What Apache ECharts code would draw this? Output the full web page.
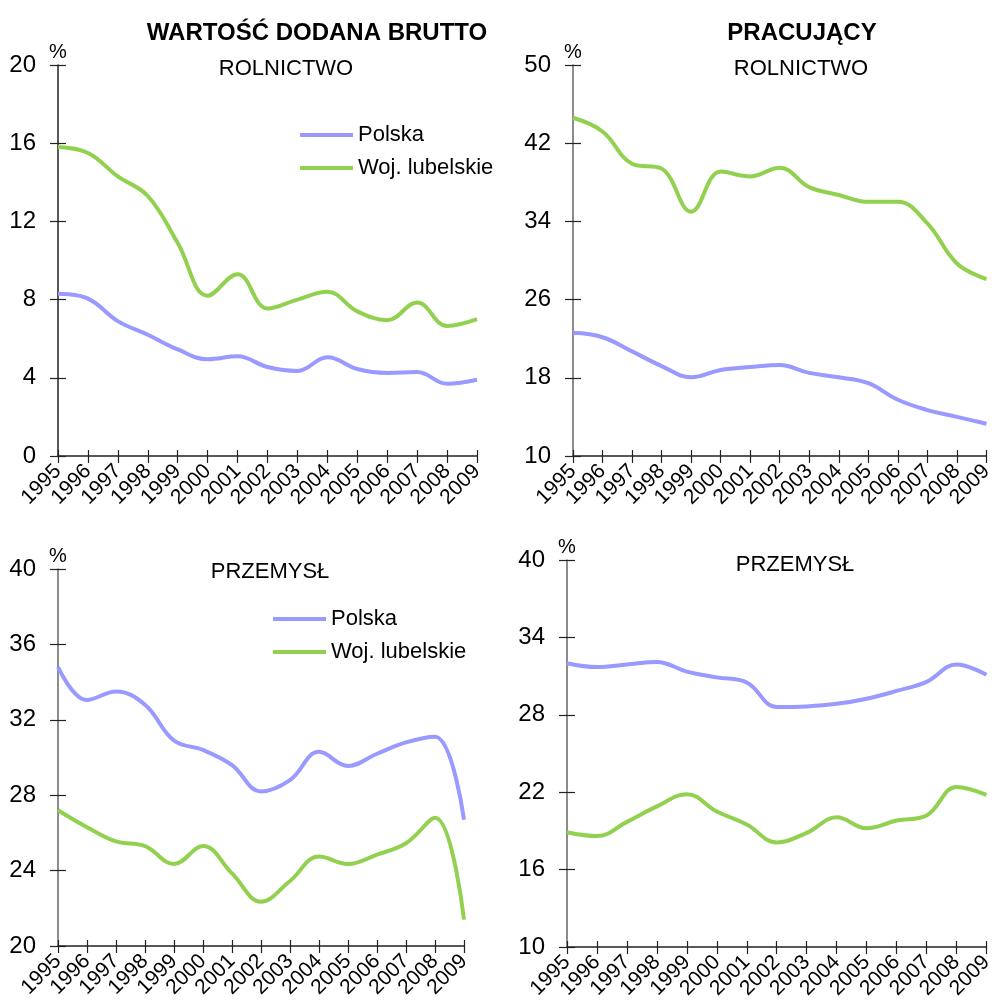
<!DOCTYPE html>
<html>
<head>
<meta charset="utf-8">
<script src="https://cdn.jsdelivr.net/npm/echarts@6/dist/echarts.min.js"></script>
<style>
  html, body { margin: 0; padding: 0; background: #fff; }
  #main { width: 996px; height: 1005px; }
</style>
</head>
<body>
<div id="main"></div>
<script>
var years = ['1995', '1996', '1997', '1998', '1999', '2000', '2001', '2002', '2003', '2004', '2005', '2006', '2007', '2008', '2009'];
var seriesNames = ['Polska', 'Woj. lubelskie'];

// wartość dodana brutto - rolnictwo
var gvaAgriPolska = [8.3, 8.05, 6.9, 6.2, 5.45, 4.95, 5.1, 4.55, 4.35, 5.05, 4.45, 4.25, 4.3, 3.7, 3.9];
var gvaAgriLubelskie = [15.8, 15.5, 14.3, 13.3, 10.9, 8.2, 9.3, 7.55, 8.0, 8.4, 7.4, 6.95, 7.85, 6.65, 7.0];
// pracujący - rolnictwo
var empAgriPolska = [22.6, 22.15, 20.7, 19.2, 18.05, 18.8, 19.1, 19.3, 18.5, 18.05, 17.45, 15.75, 14.7, 14.0, 13.3];
var empAgriLubelskie = [44.6, 43.2, 39.9, 39.4, 35.0, 39.1, 38.6, 39.5, 37.5, 36.7, 36.0, 36.0, 33.8, 29.7, 28.1];
// wartość dodana brutto - przemysł
var gvaIndPolska = [34.8, 33.05, 33.5, 32.8, 30.9, 30.4, 29.6, 28.2, 28.8, 30.3, 29.55, 30.2, 30.8, 31.1, 26.7];
var gvaIndLubelskie = [27.2, 26.3, 25.55, 25.3, 24.35, 25.3, 23.85, 22.35, 23.45, 24.75, 24.35, 24.85, 25.45, 26.8, 21.4];
// pracujący - przemysł
var empIndPolska = [32.0, 31.7, 31.9, 32.1, 31.35, 30.9, 30.5, 28.6, 28.65, 28.85, 29.25, 29.85, 30.55, 31.9, 31.1];
var empIndLubelskie = [18.9, 18.6, 19.7, 20.9, 21.85, 20.5, 19.5, 18.1, 18.85, 20.05, 19.2, 19.8, 20.2, 22.4, 21.8];

// y scales: [min, max, interval]
var yScales = [[0, 20, 4], [10, 50, 8], [20, 40, 4], [10, 40, 6]];

var FONT = '"Liberation Sans", Arial, sans-serif';
var BLUE = '#9999FF';
var GREEN = '#92D050';

var grids = [
    {left: 58, top: 65, width: 419, height: 391},
    {left: 573, top: 65, width: 420, height: 391},
    {left: 58, top: 569, width: 406, height: 377},
    {left: 567, top: 560, width: 424, height: 387}
];

var xAxes = [], yAxes = [];
grids.forEach(function (g, i) {
    var sc = yScales[i];
    // main axes, outer ticks and labels
    xAxes.push({
        gridIndex: i, type: 'category', data: years, boundaryGap: false, position: 'bottom',
        axisLine: {lineStyle: {color: '#222', width: 1.5}},
        axisTick: {length: 7, interval: 0, lineStyle: {color: '#222', width: 1.2}},
        axisLabel: {interval: 0, rotate: 45, margin: 12, color: '#000', fontFamily: FONT, fontSize: 21},
        splitLine: {show: false}
    });
    // inner half of the crossing ticks
    xAxes.push({
        gridIndex: i, type: 'category', data: years, boundaryGap: false, position: 'bottom',
        axisLine: {show: false},
        axisTick: {inside: true, length: 6, interval: 0, lineStyle: {color: '#222', width: 1.2}},
        axisLabel: {show: false}, splitLine: {show: false}
    });
    yAxes.push({
        gridIndex: i, type: 'value', min: sc[0], max: sc[1], interval: sc[2], position: 'left',
        name: '%', nameLocation: 'end', nameGap: 3,
        nameTextStyle: {color: '#000', fontFamily: FONT, fontSize: 20, align: 'center', verticalAlign: 'bottom'},
        axisLine: {show: true, lineStyle: {color: i === 0 ? '#222' : '#666', width: 1.5}},
        axisTick: {show: true, length: 8, lineStyle: {color: '#222', width: 1.2}},
        axisLabel: {margin: 22, color: '#000', fontFamily: FONT, fontSize: 24},
        splitLine: {show: false}
    });
    yAxes.push({
        gridIndex: i, type: 'value', min: sc[0], max: sc[1], interval: sc[2], position: 'left',
        axisLine: {show: false},
        axisTick: {show: true, inside: true, length: 8, lineStyle: {color: '#222', width: 1.2}},
        axisLabel: {show: false}, splitLine: {show: false}
    });
});

function line(name, data, color, idx) {
    return {
        name: name, type: 'line', data: data, smooth: 0.4, showSymbol: false, symbol: 'none',
        xAxisIndex: idx * 2, yAxisIndex: idx * 2,
        lineStyle: {color: color, width: 4}, itemStyle: {color: color},
        z: 3
    };
}

var titleFont = {color: '#000', fontFamily: FONT, fontSize: 22, fontWeight: 'normal'};
var boldFont = {color: '#000', fontFamily: FONT, fontSize: 24, fontWeight: 'bold'};

var legendBase = {
    orient: 'vertical', icon: 'rect', itemWidth: 53, itemHeight: 4, itemGap: 11,
    textStyle: {color: '#000', fontFamily: FONT, fontSize: 22, padding: [0, 0, 0, 0]},
    data: seriesNames
};

var chart = echarts.init(document.getElementById('main'));
chart.setOption({
    animation: false,
    backgroundColor: '#fff',
    title: [
        {text: 'WARTOŚĆ DODANA BRUTTO', left: 312, top: 16, textAlign: 'center', textStyle: boldFont},
        {text: 'ROLNICTWO', left: 281, top: 53, textAlign: 'center', textStyle: titleFont},
        {text: 'PRACUJĄCY', left: 797, top: 16, textAlign: 'center', textStyle: boldFont},
        {text: 'ROLNICTWO', left: 796, top: 53, textAlign: 'center', textStyle: titleFont},
        {text: 'PRZEMYSŁ', left: 265, top: 556, textAlign: 'center', textStyle: titleFont},
        {text: 'PRZEMYSŁ', left: 790, top: 549, textAlign: 'center', textStyle: titleFont}
    ],
    legend: [
        Object.assign({}, legendBase, {left: 295, top: 119}),
        Object.assign({}, legendBase, {left: 268, top: 603})
    ],
    grid: grids,
    xAxis: xAxes,
    yAxis: yAxes,
    series: [
        line('Polska', gvaAgriPolska, BLUE, 0),
        line('Woj. lubelskie', gvaAgriLubelskie, GREEN, 0),
        line('Polska', empAgriPolska, BLUE, 1),
        line('Woj. lubelskie', empAgriLubelskie, GREEN, 1),
        line('Polska', gvaIndPolska, BLUE, 2),
        line('Woj. lubelskie', gvaIndLubelskie, GREEN, 2),
        line('Polska', empIndPolska, BLUE, 3),
        line('Woj. lubelskie', empIndLubelskie, GREEN, 3)
    ]
});
</script>
</body>
</html>
